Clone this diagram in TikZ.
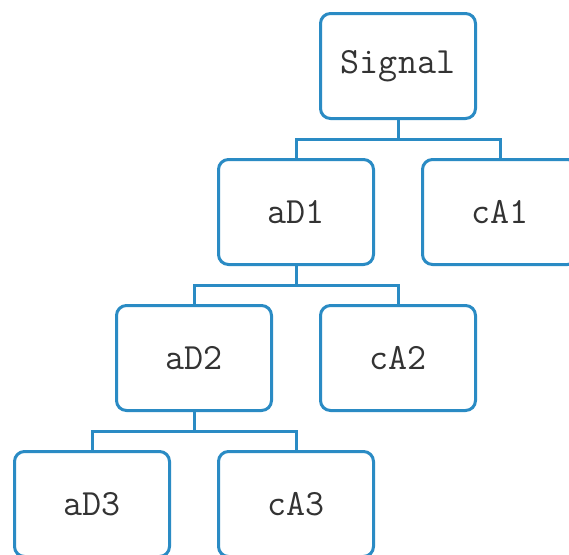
\documentclass[tikz,border=0pt]{standalone}
\usetikzlibrary{calc}
\definecolor{lineblue}{HTML}{2A8BC4}
\definecolor{textgray}{HTML}{333333}
\begin{document}
\begin{tikzpicture}[x=1pt,y=-1pt,
  box/.style={draw=lineblue, line width=3pt, rounded corners=10pt,
    minimum width=155pt, minimum height=105pt, inner sep=0pt,
    font=\fontsize{37}{37}\selectfont\ttfamily, text=textgray},
  link/.style={draw=lineblue, line width=3pt}]
\useasboundingbox (0,0) rectangle (569,554);
\clip (0,0) rectangle (569,554);
\fill[white] (0,0) rectangle (569,554);
\node[box] (sig) at (398,66) {Signal};
\node[box] (ad1) at (296,212) {aD1};
\node[box] (ca1) at (500,212) {cA1};
\node[box] (ad2) at (194,358) {aD2};
\node[box] (ca2) at (398,358) {cA2};
\node[box] (ad3) at (92,504) {aD3};
\node[box] (ca3) at (296,504) {cA3};
\coordinate (j1) at ($(sig.south)+(0,19)$);
\coordinate (j2) at ($(ad1.south)+(0,19)$);
\coordinate (j3) at ($(ad2.south)+(0,19)$);
\draw[link] (sig.south) -- (j1) -| (ad1.north);
\draw[link] (j1) -| (ca1.north);
\draw[link] (ad1.south) -- (j2) -| (ad2.north);
\draw[link] (j2) -| (ca2.north);
\draw[link] (ad2.south) -- (j3) -| (ad3.north);
\draw[link] (j3) -| (ca3.north);
\end{tikzpicture}
\end{document}
